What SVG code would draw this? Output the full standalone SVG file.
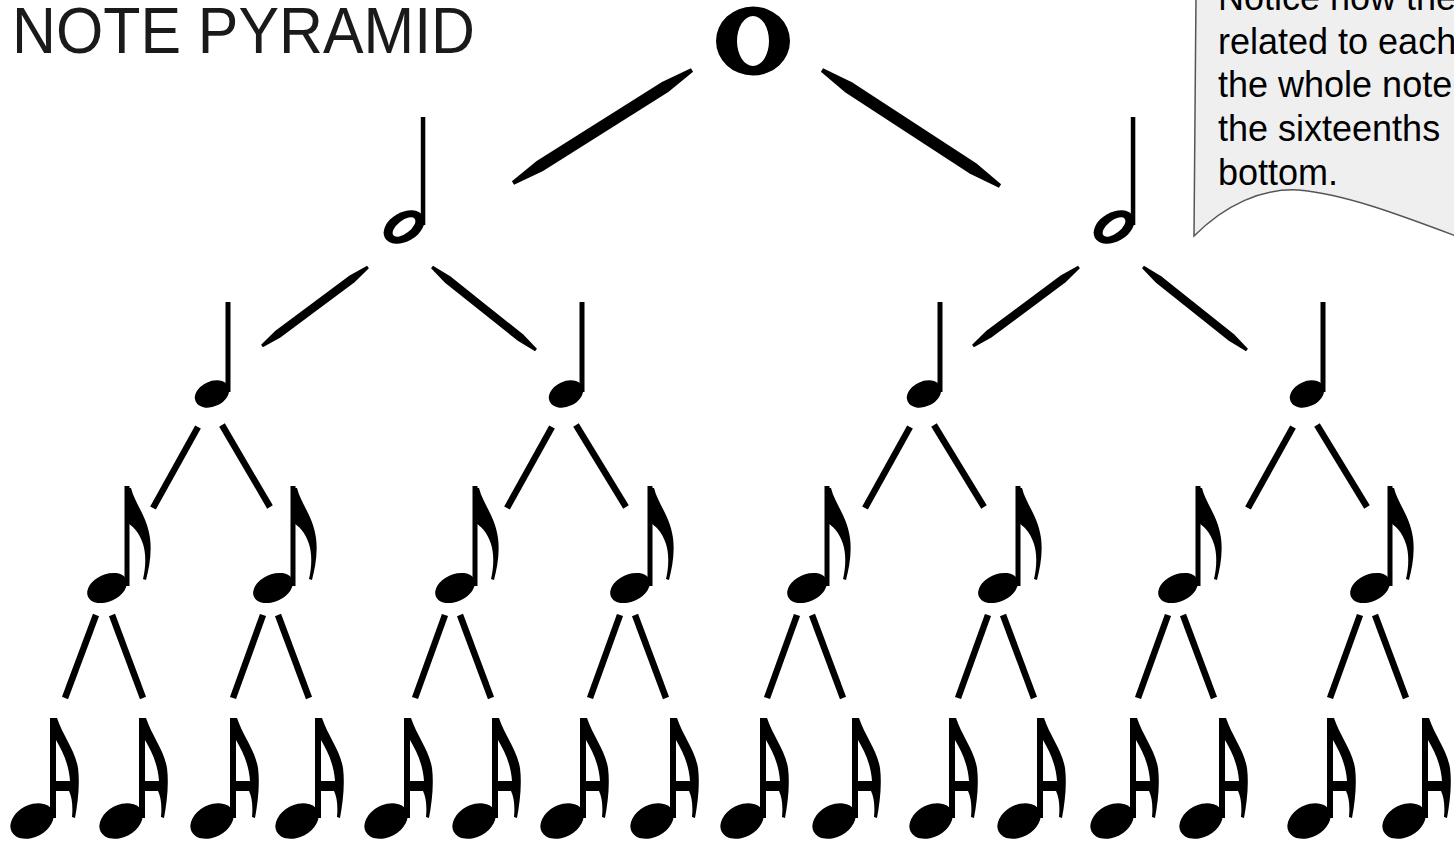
<svg xmlns="http://www.w3.org/2000/svg" xmlns:xlink="http://www.w3.org/1999/xlink" width="1454" height="845" viewBox="0 0 1454 845">
<style>
.ln{stroke:#000;stroke-width:6.5;stroke-linecap:butt;fill:none}
.tp{fill:#000}
.title{font-family:"Liberation Sans",Arial,sans-serif;font-size:65px;fill:#1a1a1a}
.note{font-family:"Liberation Sans",Arial,sans-serif;font-size:36px;fill:#000}
</style>
<defs>
<g id="g16">
<rect x="-3" y="0" width="6" height="100"/>
<path fill-rule="evenodd" d="M-1,0 L4,0 C10,18 22,32 25,50 C27,66 25,84 22,100 L19,99 C20,88 19,79 16,73 L0,73 Z M3,22 L3,63 L17,63 C16,47 10,34 3,22 Z"/>
<ellipse cx="-21" cy="103" rx="23" ry="16" transform="rotate(-28 -21 103)"/>
</g>
<g id="g8">
<rect x="-2.5" y="0" width="5" height="100"/>
<path d="M-1,2 L4,2 C8,18 20,30 23,52 C25,68 22,82 19,94 L16,93 C19,80 19,68 16,58 C12,46 6,40 -1,36 Z"/>
<ellipse cx="-20" cy="102" rx="21" ry="13.5" transform="rotate(-25 -20 102)"/>
</g>
<g id="g4">
<rect x="-2.5" y="0" width="5" height="90"/>
<ellipse cx="-16" cy="92" rx="18" ry="12.5" transform="rotate(-25 -16 92)"/>
</g>
<g id="g2">
<rect x="-2.2" y="0" width="4.5" height="108"/>
<ellipse cx="-19" cy="110" rx="22" ry="14.5" transform="rotate(-30 -19 110)"/>
<ellipse cx="-19" cy="110" rx="13.5" ry="6.5" fill="#fff" transform="rotate(-38 -19 110)"/>
</g>
</defs>
<rect width="1454" height="845" fill="#fff"/>

<g id="title"><text class="title" x="12" y="53" textLength="463" lengthAdjust="spacingAndGlyphs">NOTE PYRAMID</text></g>

<g id="callout">
<path d="M1196,-5 L1194,236 C1225,205 1262,188 1298,190 C1345,194 1400,215 1456,236 L1456,-5 Z" fill="#efefef" stroke="#555" stroke-width="1.5"/>
<text class="note" x="1218" y="10">Notice how the</text>
<text class="note" x="1218" y="54">related to each</text>
<text class="note" x="1218" y="97">the whole note</text>
<text class="note" x="1218" y="141">the sixteenths</text>
<text class="note" x="1218" y="185">bottom.</text>
</g>

<g id="connectors">
<path class="tp" d="M514.07,184.69 L543.05,171.12 L668.35,92.02 L693.07,71.69 L690.93,68.31 L661.95,81.88 L536.65,160.98 L511.93,181.31 Z"/>
<path class="tp" d="M820.91,71.68 L845.42,92.43 L970.02,173.63 L998.91,187.68 L1001.09,184.32 L976.58,163.57 L851.98,82.37 L823.09,68.32 Z"/>
<path class="tp" d="M262.9,347.2 L280.41,337.52 L354.61,282.22 L368.9,268.2 L367.1,265.8 L349.59,275.48 L275.39,330.78 L261.1,344.8 Z"/>
<path class="tp" d="M431.06,268.17 L444.98,282.73 L517.78,340.83 L535.06,351.17 L536.94,348.83 L523.02,334.27 L450.22,276.17 L432.94,265.83 Z"/>
<path class="tp" transform="translate(711,0)" d="M262.9,347.2 L280.41,337.52 L354.61,282.22 L368.9,268.2 L367.1,265.8 L349.59,275.48 L275.39,330.78 L261.1,344.8 Z"/>
<path class="tp" transform="translate(711,0)" d="M431.06,268.17 L444.98,282.73 L517.78,340.83 L535.06,351.17 L536.94,348.83 L523.02,334.27 L450.22,276.17 L432.94,265.83 Z"/>
<line class="ln" x1="198" y1="427" x2="153" y2="508"/>
<line class="ln" x1="222" y1="425" x2="270" y2="507"/>
<line class="ln" x1="552" y1="427" x2="507" y2="508"/>
<line class="ln" x1="576" y1="425" x2="626" y2="507"/>
<line class="ln" x1="910" y1="427" x2="865" y2="508"/>
<line class="ln" x1="934" y1="425" x2="984" y2="507"/>
<line class="ln" x1="1293" y1="427" x2="1248" y2="508"/>
<line class="ln" x1="1317" y1="425" x2="1367" y2="507"/>
<line class="ln" x1="96" y1="615" x2="65" y2="698"/>
<line class="ln" x1="112" y1="615" x2="143" y2="698"/>
<line class="ln" x1="263" y1="615" x2="233" y2="698"/>
<line class="ln" x1="278" y1="615" x2="309" y2="698"/>
<line class="ln" x1="445" y1="615" x2="415" y2="698"/>
<line class="ln" x1="460" y1="615" x2="491" y2="698"/>
<line class="ln" x1="620" y1="615" x2="590" y2="698"/>
<line class="ln" x1="635" y1="615" x2="666" y2="698"/>
<line class="ln" x1="797" y1="615" x2="767" y2="698"/>
<line class="ln" x1="812" y1="615" x2="843" y2="698"/>
<line class="ln" x1="988" y1="615" x2="958" y2="698"/>
<line class="ln" x1="1003" y1="615" x2="1034" y2="698"/>
<line class="ln" x1="1168" y1="615" x2="1138" y2="698"/>
<line class="ln" x1="1183" y1="615" x2="1214" y2="698"/>
<line class="ln" x1="1360" y1="615" x2="1330" y2="698"/>
<line class="ln" x1="1375" y1="615" x2="1406" y2="698"/>
</g>

<g id="whole"><path fill-rule="evenodd" d="M716,41 a37,34.5 0 1,0 74,0 a37,34.5 0 1,0 -74,0 Z M737,41 a16,25 0 1,0 32,0 a16,25 0 1,0 -32,0 Z"/></g>

<g id="half-1"><use xlink:href="#g2" x="423" y="117"/></g>
<g id="half-2"><use xlink:href="#g2" x="1133" y="117"/></g>

<g id="quarter-1"><use xlink:href="#g4" x="228" y="302"/></g>
<g id="quarter-2"><use xlink:href="#g4" x="582" y="302"/></g>
<g id="quarter-3"><use xlink:href="#g4" x="940" y="302"/></g>
<g id="quarter-4"><use xlink:href="#g4" x="1323" y="302"/></g>

<g id="eighth-1"><use xlink:href="#g8" x="127" y="486"/></g>
<g id="eighth-2"><use xlink:href="#g8" x="293" y="486"/></g>
<g id="eighth-3"><use xlink:href="#g8" x="475" y="486"/></g>
<g id="eighth-4"><use xlink:href="#g8" x="650" y="486"/></g>
<g id="eighth-5"><use xlink:href="#g8" x="827" y="486"/></g>
<g id="eighth-6"><use xlink:href="#g8" x="1018" y="486"/></g>
<g id="eighth-7"><use xlink:href="#g8" x="1198" y="486"/></g>
<g id="eighth-8"><use xlink:href="#g8" x="1390" y="486"/></g>

<g id="sixteenth-1"><use xlink:href="#g16" x="53" y="718"/></g>
<g id="sixteenth-2"><use xlink:href="#g16" x="142" y="718"/></g>
<g id="sixteenth-3"><use xlink:href="#g16" x="233" y="718"/></g>
<g id="sixteenth-4"><use xlink:href="#g16" x="318" y="718"/></g>
<g id="sixteenth-5"><use xlink:href="#g16" x="407" y="718"/></g>
<g id="sixteenth-6"><use xlink:href="#g16" x="495" y="718"/></g>
<g id="sixteenth-7"><use xlink:href="#g16" x="583" y="718"/></g>
<g id="sixteenth-8"><use xlink:href="#g16" x="673" y="718"/></g>
<g id="sixteenth-9"><use xlink:href="#g16" x="763" y="718"/></g>
<g id="sixteenth-10"><use xlink:href="#g16" x="855" y="718"/></g>
<g id="sixteenth-11"><use xlink:href="#g16" x="952" y="718"/></g>
<g id="sixteenth-12"><use xlink:href="#g16" x="1040" y="718"/></g>
<g id="sixteenth-13"><use xlink:href="#g16" x="1133" y="718"/></g>
<g id="sixteenth-14"><use xlink:href="#g16" x="1222" y="718"/></g>
<g id="sixteenth-15"><use xlink:href="#g16" x="1330" y="718"/></g>
<g id="sixteenth-16"><use xlink:href="#g16" x="1425" y="718"/></g>
</svg>
